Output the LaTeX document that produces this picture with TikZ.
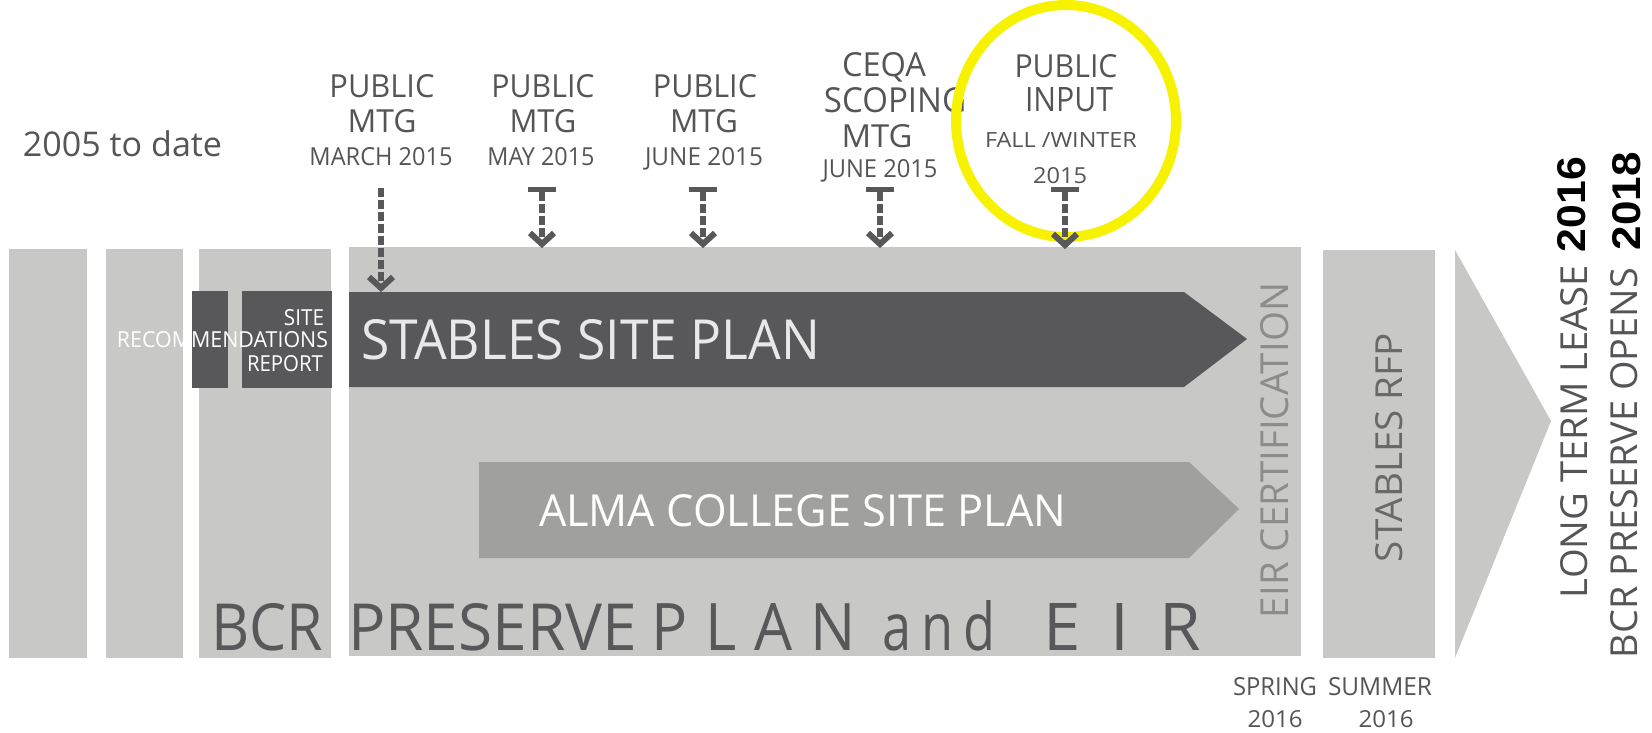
\documentclass[tikz,border=0pt]{standalone}
\usepackage{fontspec}
\setmainfont{Open Sans}
\newfontfamily\arialf{Liberation Sans}
\usepackage{graphicx}
\definecolor{barlight}{RGB}{200,200,198}
\definecolor{bardark}{RGB}{88,88,90}
\definecolor{baralma}{RGB}{160,160,158}
\definecolor{lblgray}{RGB}{85,85,87}
\definecolor{eirgray}{RGB}{140,140,138}
\definecolor{rfpgray}{RGB}{105,105,105}
\definecolor{paletext}{RGB}{232,232,232}
\definecolor{ringyellow}{RGB}{246,242,0}
\newcommand{\fitbox}[3]{\resizebox{#1pt}{#2pt}{#3}}
\tikzset{
  lbl/.style={inner sep=0pt, outer sep=0pt, text=lblgray, anchor=base},
  mtgline/.style={draw=bardark, line width=6pt, dash pattern=on 9pt off 3pt},
  chev/.style={draw=bardark, line width=6pt, miter limit=10},
  tbar/.style={fill=bardark}
}
\begin{document}
\begin{tikzpicture}[x=1pt,y=-1pt]
\useasboundingbox (0,0) rectangle (1652,733);
\fill[white] (0,0) rectangle (1652,733);
% bars
\fill[barlight] (9,249) rectangle (87,658);
\fill[barlight] (106,249) rectangle (183,658);
\fill[barlight] (199,249) rectangle (331,658);
\fill[barlight] (349,247) rectangle (1301,656);
\fill[barlight] (1323,250) rectangle (1435,658);
\fill[barlight] (1455,250) -- (1551,421) -- (1455,658) -- cycle;
% dark boxes
\fill[bardark] (192,291) rectangle (228,388);
\fill[bardark] (242,291) rectangle (332,388);
% stables arrow
\fill[bardark] (349,292) -- (1184,292) -- (1247,339) -- (1184,387) -- (349,387) -- cycle;
% alma arrow
\fill[baralma] (479,462) -- (1189,462) -- (1239,509) -- (1189,558) -- (479,558) -- cycle;
% texts in bars
\node[lbl, anchor=base east, text=white] (site) at (324,325) {\fitbox{40}{16}{SITE}};
\node[lbl, anchor=base east, text=white] (recom) at (328,347) {\fitbox{211}{16}{RECOMMENDATIONS}};
\node[lbl, anchor=base east, text=white] (report) at (323,371) {\fitbox{76}{16}{REPORT}};
\node[lbl, anchor=base west, text=paletext] (ssp) at (361,359) {\fitbox{459}{40}{STABLES SITE PLAN}};
\node[lbl, anchor=base west, text=white] (acsp) at (539,526) {\fitbox{527}{32}{ALMA COLLEGE SITE PLAN}};
\node[lbl, anchor=base west, text=bardark] (bcr) at (211,650) {\fitbox{112}{47}{BCR}};
\node[lbl, anchor=base west, text=bardark] (pres) at (348,650) {\fitbox{289}{47}{PRESERVE}};
\node[lbl, anchor=base west, text=bardark] (plan) at (651,650) {\fitbox{205}{47}{P\hspace{0.3em}L\hspace{0.3em}A\hspace{0.3em}N}};
\node[lbl, anchor=base west, text=bardark] (and) at (882,650) {\fitbox{114}{50}{a\hspace{0.2em}n\hspace{0.2em}d}};
\node[lbl, anchor=base west, text=bardark] (eir) at (1043,650) {\fitbox{158}{47}{E\hspace{0.45em}I\hspace{0.45em}R}};
\node[lbl, anchor=base west, text=eirgray, rotate=90] (eircert) at (1288,618) {\fitbox{335}{28}{EIR CERTIFICATION}};
\node[lbl, anchor=base west, text=rfpgray, rotate=90] (rfp) at (1402,562) {\fitbox{229}{27}{STABLES RFP}};
\node[lbl, anchor=base west, rotate=90] (ltl) at (1587,598) {\fitbox{333}{27}{LONG TERM LEASE}};
\node[lbl, anchor=base west, rotate=90, text=black] (y16) at (1585,252) {\fitbox{95}{28}{\arialf\bfseries 2016}};
\node[lbl, anchor=base west, rotate=90] (bpo) at (1637,658) {\fitbox{390}{27}{BCR PRESERVE OPENS}};
\node[lbl, anchor=base west, rotate=90, text=black] (y18) at (1640,250) {\fitbox{98}{28}{\arialf\bfseries 2018}};
% bottom season labels
\node[lbl] (spr) at (1275,695) {\fitbox{84}{18}{SPRING}};
\node[lbl] (spry) at (1275,727) {\fitbox{55}{17}{2016}};
\node[lbl] (sum) at (1380,695) {\fitbox{104}{18}{SUMMER}};
\node[lbl] (sumy) at (1386,727) {\fitbox{55}{17}{2016}};
% 2005
\node[lbl, anchor=base west] (since) at (23,157) {\resizebox{199pt}{!}{2005 to date}};
% meeting labels
\node[lbl] (m1a) at (382,98) {\fitbox{105}{23}{PUBLIC}};
\node[lbl] (m1b) at (382,133) {\fitbox{69}{23}{MTG}};
\node[lbl] (m1c) at (381,165) {\fitbox{143}{18}{MARCH 2015}};
\node[lbl] (m2a) at (543,98) {\fitbox{103}{23}{PUBLIC}};
\node[lbl] (m2b) at (543,133) {\fitbox{67}{23}{MTG}};
\node[lbl] (m2c) at (541,165) {\fitbox{107}{18}{MAY 2015}};
\node[lbl] (m3a) at (705,98) {\fitbox{104}{23}{PUBLIC}};
\node[lbl] (m3b) at (704,133) {\fitbox{68}{23}{MTG}};
\node[lbl] (m3c) at (704,165) {\fitbox{118}{18}{JUNE 2015}};
\node[lbl] (m4a) at (884,77) {\fitbox{84}{24}{CEQA}};
\node[lbl] (m4b) at (895,113) {\fitbox{142}{25}{SCOPING}};
\node[lbl] (m4c) at (877,148) {\fitbox{71}{23}{MTG}};
\node[lbl] (m4d) at (880,177) {\fitbox{115}{18}{JUNE 2015}};
\node[lbl] (m5a) at (1066,78) {\fitbox{103}{23}{PUBLIC}};
\node[lbl] (m5b) at (1069,112) {\fitbox{88}{24}{INPUT}};
\node[lbl] (m5c) at (1061,148) {\fitbox{152}{15}{FALL /WINTER}};
\node[lbl] (m5d) at (1060,183) {\fitbox{54}{16}{2015}};
% ring
\draw[ringyellow, line width=10pt] (1066,121) ellipse [x radius=110, y radius=116];
% meeting arrows
\coordinate (t1) at (381,188); \coordinate (h1) at (381,292);
\coordinate (t2) at (542,187); \coordinate (h2) at (542,248);
\coordinate (t3) at (703,187); \coordinate (h3) at (703,248);
\coordinate (t4) at (880,187); \coordinate (h4) at (880,248);
\coordinate (t5) at (1065,187); \coordinate (h5) at (1065,249);
\draw[mtgline] (t1) -- ([yshift=6pt]h1);
\draw[chev] ([xshift=-12pt,yshift=15pt]h1) -- ([yshift=4pt]h1) -- ([xshift=12pt,yshift=15pt]h1);
\foreach \i in {2,3,4,5}{
  \fill[tbar] ([xshift=-14pt]t\i) rectangle ([xshift=14pt,yshift=-5pt]t\i);
  \draw[mtgline] ([yshift=-5pt]t\i) -- ([yshift=6pt]h\i);
  \draw[chev] ([xshift=-12pt,yshift=15pt]h\i) -- ([yshift=4pt]h\i) -- ([xshift=12pt,yshift=15pt]h\i);
}
\end{tikzpicture}
\end{document}
